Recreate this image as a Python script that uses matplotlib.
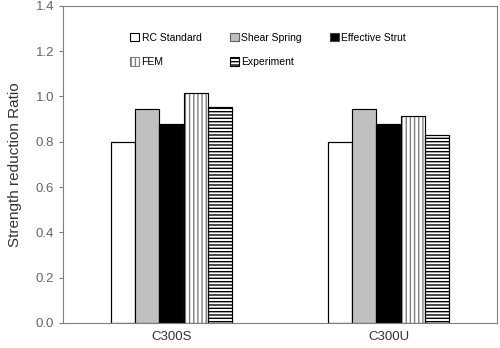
import matplotlib.pyplot as plt
import numpy as np

plt.rcParams['font.family'] = ['Liberation Sans', 'DejaVu Sans']
plt.rcParams['hatch.linewidth'] = 1.0

groups = ['C300S', 'C300U']
series = ['RC Standard', 'Shear Spring', 'Effective Strut', 'FEM', 'Experiment']
rc_standard = [0.80, 0.80]
shear_spring = [0.945, 0.945]
effective_strut = [0.88, 0.88]
fem = [1.015, 0.915]
experiment = [0.955, 0.83]

values = [rc_standard, shear_spring, effective_strut, fem, experiment]
faces = ['white', '#c0c0c0', 'black', 'white', 'white']
hatches = [None, None, None, '||||', '-----']
hatch_cols = ['black', '#606060', '#404040', '#808080', 'black']

fig = plt.figure(figsize=(5, 3.48), dpi=100)
ax = fig.add_axes([0.126, 0.072, 0.868, 0.911])

x = np.arange(len(groups))
w = 0.112
handles = []
for i, (vals, fc, h, hc) in enumerate(zip(values, faces, hatches, hatch_cols)):
    pos = x + (i - 2) * w
    b = ax.bar(pos, vals, w, color=fc, edgecolor=hc, hatch=h, linewidth=0.8, label=series[i])
    ax.bar(pos, vals, w, fill=False, edgecolor='black', linewidth=0.8)
    handles.append(b)

ax.set_xlim(-0.5, 1.5)
ax.set_ylim(0, 1.4)
ax.set_yticks(np.arange(0, 1.41, 0.2))
ax.set_yticklabels([f'{v:.1f}' for v in np.arange(0, 1.41, 0.2)])
ax.set_xticks(x)
ax.set_xticklabels(groups)
ax.tick_params(axis='x', length=0, labelsize=9.5, colors='#333333', pad=6)
ax.tick_params(axis='y', length=3, labelsize=9.5, colors='#808080', labelcolor='#666666', direction='out')
for s in ax.spines.values():
    s.set_color('#808080')
    s.set_linewidth(0.8)
ax.set_ylabel('Strength reduction Ratio', fontsize=11, color='#333333', labelpad=10)

# row-wise legend order
order = [0, 3, 1, 4, 2]
ax.legend([handles[k] for k in order], [series[k] for k in order],
          ncol=3, loc='upper left', bbox_to_anchor=(0.133, 0.945), frameon=False,
          fontsize=7.5, handlelength=0.9, handleheight=0.9, handletextpad=0.2,
          columnspacing=2.7, labelspacing=1.4)

fig.savefig('out.png', dpi=100)
